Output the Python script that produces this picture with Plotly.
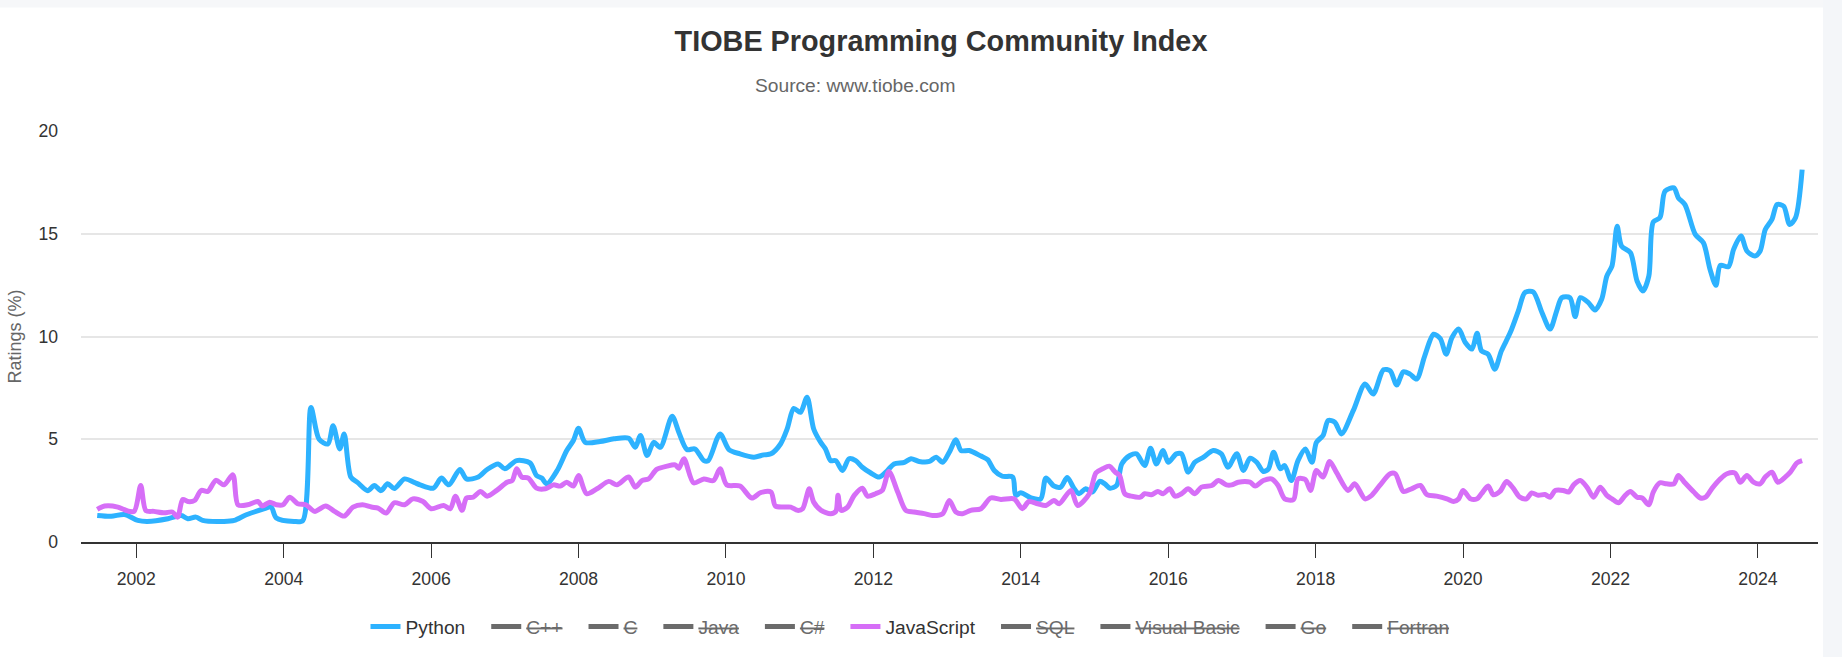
import plotly.graph_objects as go

# ---------------- data ----------------
python_years = [
    2001.47, 2001.66, 2001.84, 2002.02, 2002.15, 2002.43, 2002.61, 2002.70, 2002.81, 2002.90,
    2003.19, 2003.33, 2003.47, 2003.60, 2003.74, 2003.83, 2003.90, 2004.14, 2004.26, 2004.37,
    2004.48, 2004.60, 2004.67, 2004.76, 2004.82, 2004.91, 2005.00, 2005.14, 2005.23, 2005.32,
    2005.41, 2005.50, 2005.64, 2005.77, 2005.85, 2006.03, 2006.14, 2006.24, 2006.39, 2006.48,
    2006.64, 2006.76, 2006.91, 2007.00, 2007.16, 2007.34, 2007.43, 2007.50, 2007.57, 2007.71,
    2007.84, 2007.93, 2008.00, 2008.09, 2008.29, 2008.48, 2008.68, 2008.77, 2008.84, 2008.93,
    2009.02, 2009.11, 2009.27, 2009.36, 2009.47, 2009.58, 2009.70, 2009.76, 2009.92, 2010.04,
    2010.19, 2010.38, 2010.51, 2010.61, 2010.74, 2010.83, 2010.92, 2011.01, 2011.10, 2011.19,
    2011.29, 2011.35, 2011.42, 2011.49, 2011.58, 2011.67, 2011.76, 2011.85, 2011.96, 2012.08,
    2012.19, 2012.28, 2012.42, 2012.51, 2012.62, 2012.76, 2012.85, 2012.94, 2013.03, 2013.12,
    2013.19, 2013.30, 2013.46, 2013.55, 2013.64, 2013.75, 2013.89, 2013.93, 2014.00, 2014.14,
    2014.27, 2014.34, 2014.45, 2014.54, 2014.63, 2014.72, 2014.79, 2014.88, 2014.97, 2015.07,
    2015.14, 2015.21, 2015.30, 2015.37, 2015.48, 2015.57, 2015.68, 2015.76, 2015.84, 2015.93,
    2016.00, 2016.11, 2016.18, 2016.27, 2016.36, 2016.48, 2016.61, 2016.72, 2016.81, 2016.93,
    2017.02, 2017.11, 2017.20, 2017.29, 2017.36, 2017.43, 2017.52, 2017.58, 2017.67, 2017.76,
    2017.86, 2017.95, 2018.01, 2018.10, 2018.17, 2018.26, 2018.35, 2018.51, 2018.67, 2018.78,
    2018.92, 2019.01, 2019.10, 2019.19, 2019.28, 2019.37, 2019.48, 2019.60, 2019.69, 2019.77,
    2019.85, 2019.94, 2020.03, 2020.12, 2020.19, 2020.25, 2020.34, 2020.43, 2020.52, 2020.64,
    2020.75, 2020.84, 2020.95, 2021.07, 2021.18, 2021.27, 2021.34, 2021.45, 2021.52, 2021.59,
    2021.70, 2021.79, 2021.88, 2021.95, 2022.02, 2022.09, 2022.15, 2022.27, 2022.36, 2022.44,
    2022.52, 2022.58, 2022.67, 2022.74, 2022.86, 2022.92, 2023.01, 2023.15, 2023.26, 2023.35,
    2023.43, 2023.49, 2023.60, 2023.67, 2023.77, 2023.85, 2023.96, 2024.03, 2024.10, 2024.19,
    2024.26, 2024.35, 2024.43, 2024.51, 2024.60,
]
python_ratings = [
    1.29, 1.25, 1.34, 1.05, 1.00, 1.13, 1.29, 1.13, 1.21, 1.05,
    1.00, 1.05, 1.29, 1.46, 1.62, 1.70, 1.17, 1.00, 1.05, 6.55,
    5.00, 4.77, 5.66, 4.53, 5.26, 3.16, 2.90, 2.50, 2.75, 2.50,
    2.83, 2.60, 3.07, 2.90, 2.78, 2.62, 3.11, 2.78, 3.53, 3.07,
    3.16, 3.53, 3.80, 3.56, 3.96, 3.85, 3.24, 3.11, 2.83, 3.48,
    4.45, 4.94, 5.53, 4.85, 4.89, 5.02, 5.05, 4.61, 5.18, 4.21,
    4.85, 4.61, 6.12, 5.34, 4.50, 4.53, 3.96, 3.96, 5.26, 4.50,
    4.29, 4.13, 4.24, 4.29, 4.77, 5.50, 6.50, 6.31, 7.04, 5.50,
    4.82, 4.53, 3.96, 3.96, 3.48, 4.05, 3.96, 3.64, 3.37, 3.16,
    3.48, 3.80, 3.88, 4.05, 3.92, 3.92, 4.13, 3.88, 4.37, 4.98,
    4.45, 4.45, 4.18, 4.01, 3.48, 3.20, 3.16, 2.27, 2.40, 2.14,
    2.10, 3.11, 2.72, 2.67, 3.14, 2.62, 2.35, 2.59, 2.43, 2.95,
    2.83, 2.62, 2.75, 3.80, 4.21, 4.29, 3.72, 4.56, 3.80, 4.45,
    3.88, 4.29, 4.29, 3.40, 3.88, 4.13, 4.45, 4.29, 3.64, 4.29,
    3.48, 4.08, 3.88, 3.43, 3.56, 4.37, 3.56, 3.72, 2.99, 3.96,
    4.53, 3.88, 4.85, 5.18, 5.91, 5.83, 5.26, 6.39, 7.69, 7.20,
    8.38, 8.33, 7.64, 8.28, 8.17, 7.93, 9.06, 10.11, 9.90, 9.14,
    9.95, 10.36, 9.71, 9.39, 10.16, 9.30, 9.14, 8.41, 9.30, 10.19,
    11.25, 12.14, 12.17, 11.17, 10.36, 11.25, 11.89, 11.89, 10.97, 11.89,
    11.65, 11.29, 11.81, 12.94, 13.43, 15.37, 14.40, 14.08, 12.70, 12.22,
    12.94, 15.57, 15.78, 17.07, 17.23, 16.75, 16.42, 14.97, 14.56, 13.27,
    12.49, 13.46, 13.40, 14.24, 14.89, 14.16, 13.92, 14.16, 15.21, 15.70,
    16.42, 16.34, 15.45, 15.78, 18.12,
]

js_years = [
    2001.47, 2001.57, 2001.75, 2001.84, 2001.97, 2002.06, 2002.13, 2002.24, 2002.38, 2002.49,
    2002.56, 2002.63, 2002.70, 2002.79, 2002.88, 2002.97, 2003.08, 2003.19, 2003.31, 2003.38,
    2003.51, 2003.65, 2003.71, 2003.81, 2003.90, 2003.99, 2004.08, 2004.19, 2004.30, 2004.42,
    2004.57, 2004.69, 2004.82, 2004.94, 2005.07, 2005.19, 2005.28, 2005.39, 2005.50, 2005.64,
    2005.75, 2005.89, 2006.00, 2006.17, 2006.26, 2006.33, 2006.42, 2006.48, 2006.57, 2006.67,
    2006.76, 2006.89, 2007.03, 2007.10, 2007.16, 2007.23, 2007.32, 2007.43, 2007.55, 2007.66,
    2007.75, 2007.84, 2007.93, 2008.00, 2008.11, 2008.25, 2008.41, 2008.52, 2008.68, 2008.77,
    2008.86, 2008.95, 2009.06, 2009.20, 2009.31, 2009.36, 2009.43, 2009.56, 2009.70, 2009.83,
    2009.92, 2010.01, 2010.19, 2010.35, 2010.47, 2010.61, 2010.67, 2010.79, 2010.88, 2010.97,
    2011.04, 2011.13, 2011.19, 2011.29, 2011.42, 2011.49, 2011.52, 2011.56, 2011.65, 2011.74,
    2011.85, 2011.92, 2012.03, 2012.12, 2012.21, 2012.33, 2012.44, 2012.55, 2012.69, 2012.80,
    2012.94, 2013.03, 2013.12, 2013.21, 2013.32, 2013.46, 2013.59, 2013.73, 2013.91, 2014.02,
    2014.11, 2014.23, 2014.34, 2014.45, 2014.52, 2014.68, 2014.77, 2014.93, 2015.02, 2015.11,
    2015.20, 2015.28, 2015.34, 2015.41, 2015.50, 2015.62, 2015.68, 2015.77, 2015.86, 2015.93,
    2016.02, 2016.09, 2016.18, 2016.27, 2016.36, 2016.45, 2016.59, 2016.68, 2016.79, 2016.86,
    2016.95, 2017.11, 2017.18, 2017.29, 2017.40, 2017.49, 2017.58, 2017.70, 2017.76, 2017.86,
    2017.93, 2018.01, 2018.10, 2018.19, 2018.28, 2018.44, 2018.53, 2018.67, 2018.76, 2018.87,
    2019.01, 2019.08, 2019.19, 2019.30, 2019.42, 2019.51, 2019.64, 2019.78, 2019.87, 2019.94,
    2020.00, 2020.10, 2020.19, 2020.25, 2020.34, 2020.41, 2020.50, 2020.59, 2020.68, 2020.77,
    2020.86, 2020.93, 2021.02, 2021.11, 2021.18, 2021.25, 2021.36, 2021.43, 2021.50, 2021.59,
    2021.68, 2021.77, 2021.86, 2021.95, 2022.02, 2022.11, 2022.20, 2022.27, 2022.36, 2022.43,
    2022.52, 2022.58, 2022.67, 2022.76, 2022.86, 2022.92, 2023.01, 2023.13, 2023.22, 2023.29,
    2023.38, 2023.49, 2023.58, 2023.69, 2023.76, 2023.85, 2023.94, 2024.03, 2024.10, 2024.19,
    2024.27, 2024.37, 2024.44, 2024.53, 2024.60,
]
js_ratings = [
    1.59, 1.75, 1.70, 1.57, 1.49, 2.75, 1.53, 1.49, 1.42, 1.46,
    1.21, 2.07, 1.97, 2.02, 2.51, 2.46, 3.00, 2.78, 3.27, 1.81,
    1.81, 1.97, 1.75, 1.94, 1.81, 1.81, 2.18, 1.86, 1.81, 1.49,
    1.75, 1.49, 1.26, 1.70, 1.81, 1.70, 1.65, 1.41, 1.91, 1.81,
    2.10, 1.97, 1.62, 1.78, 1.62, 2.23, 1.54, 2.14, 2.18, 2.46,
    2.23, 2.51, 2.91, 2.99, 3.56, 3.16, 3.11, 2.62, 2.59, 2.78,
    2.72, 2.91, 2.72, 3.24, 2.35, 2.59, 2.95, 2.78, 3.16, 2.67,
    2.99, 3.07, 3.53, 3.69, 3.75, 3.59, 4.05, 2.88, 3.07, 2.99,
    3.56, 2.78, 2.72, 2.14, 2.40, 2.43, 1.75, 1.70, 1.70, 1.54,
    1.62, 2.59, 1.94, 1.54, 1.38, 1.49, 2.27, 1.54, 1.70, 2.27,
    2.62, 2.23, 2.35, 2.51, 3.43, 2.43, 1.54, 1.46, 1.38, 1.29,
    1.38, 2.02, 1.46, 1.38, 1.54, 1.62, 2.14, 2.07, 2.10, 1.62,
    1.97, 1.86, 1.78, 2.02, 1.86, 2.51, 1.78, 2.35, 3.37, 3.56,
    3.69, 3.40, 3.24, 2.35, 2.23, 2.18, 2.35, 2.30, 2.46, 2.35,
    2.59, 2.23, 2.35, 2.59, 2.35, 2.67, 2.75, 2.99, 2.78, 2.78,
    2.91, 2.91, 2.72, 2.99, 3.07, 2.75, 2.10, 2.07, 3.07, 3.04,
    2.51, 3.48, 3.16, 3.92, 3.40, 2.51, 2.83, 2.10, 2.27, 2.75,
    3.32, 3.32, 2.46, 2.59, 2.75, 2.30, 2.23, 2.10, 1.97, 2.10,
    2.51, 2.10, 2.10, 2.35, 2.72, 2.30, 2.46, 2.94, 2.62, 2.18,
    2.10, 2.39, 2.27, 2.31, 2.18, 2.51, 2.51, 2.43, 2.78, 2.99,
    2.67, 2.18, 2.67, 2.27, 2.10, 1.91, 2.27, 2.46, 2.18, 2.14,
    1.81, 2.43, 2.88, 2.83, 2.83, 3.24, 2.88, 2.43, 2.14, 2.18,
    2.62, 3.07, 3.32, 3.35, 2.91, 3.24, 2.91, 2.83, 3.16, 3.40,
    2.91, 3.16, 3.40, 3.85, 3.96,
]

legend_order = ["Python", "C++", "C", "Java", "C#", "JavaScript", "SQL", "Visual Basic", "Go", "Fortran"]
hidden_languages = ["C++", "C", "Java", "C#", "SQL", "Visual Basic", "Go", "Fortran"]
x_tick_years = [2002, 2004, 2006, 2008, 2010, 2012, 2014, 2016, 2018, 2020, 2022, 2024]
y_tick_values = [0, 5, 10, 15, 20]

PY_COLOR = "#2db2ff"
JS_COLOR = "#d66ef7"
HIDDEN_COLOR = "#6b6b6b"
FONT = "Liberation Sans, Arial, Helvetica, sans-serif"
GAP = "\u00a0\u00a0\u00a0"   # extra spacing between legend entries

# ---------------- figure ----------------
fig = go.Figure()
series = {
    "Python": (python_years, python_ratings, PY_COLOR),
    "JavaScript": (js_years, js_ratings, JS_COLOR),
}
for i, name in enumerate(legend_order):
    pad = GAP if i < len(legend_order) - 1 else ""
    if name in series:
        xs, ys, col = series[name]
        fig.add_trace(go.Scatter(
            x=xs, y=ys, mode="lines", name=name + pad,
            line=dict(color=col, width=5, shape="spline", smoothing=0.8),
            hoverinfo="x+y+name",
        ))
    else:
        fig.add_trace(go.Scatter(
            x=[None], y=[None], mode="lines",
            name=f'<span style="color:{HIDDEN_COLOR};text-decoration:line-through">{name}</span>' + pad,
            line=dict(color=HIDDEN_COLOR, width=5),
        ))

# plot-area pixel geometry: left 81, right 1818, top 131, bottom 543
PL, PR, PT, PB = 81, 1818, 131, 543.3
W, H = 1842, 657
def px2paper_x(px):
    return (px - PL) / (PR - PL)
def px2paper_y(py):
    return (PB - py) / (PB - PT)

fig.update_layout(
    width=W, height=H,
    margin=dict(l=PL, r=W - PR, t=PT, b=H - PB),
    paper_bgcolor="white", plot_bgcolor="white",
    font=dict(family=FONT, color="#333333"),
    title=dict(
        text="<b>TIOBE Programming Community Index</b>",
        font=dict(size=28.8, color="#333333", family=FONT),
        x=941 / W, xref="container", xanchor="center",
        y=1 - 41 / H, yref="container", yanchor="middle",
    ),
    showlegend=True,
    legend=dict(
        orientation="h", x=px2paper_x(910), xanchor="center",
        y=px2paper_y(627), yanchor="middle",
        font=dict(size=19.2, color="#333333", family=FONT),
        itemwidth=30, bgcolor="rgba(0,0,0,0)",
    ),
    xaxis=dict(
        range=[2001.25, 2024.815],
        tickmode="array", tickvals=x_tick_years, ticktext=[str(v) for v in x_tick_years],
        showgrid=False, zeroline=False,
        showline=True, linecolor="#333333", linewidth=1.6,
        ticks="outside", ticklen=14, tickwidth=1.2, tickcolor="#333333",
        tickfont=dict(size=17.6, color="#333333", family=FONT),
        ticklabelstandoff=6,
    ),
    yaxis=dict(
        range=[0, 20],
        tickmode="array", tickvals=y_tick_values,
        showgrid=True, gridcolor="#e6e6e6", gridwidth=1.5,
        zeroline=False, showline=False, ticks="",
        tickfont=dict(size=17.6, color="#333333", family=FONT),
        ticklabelstandoff=22,
        title=dict(text="Ratings (%)", font=dict(size=18, color="#666666", family=FONT), standoff=12),
    ),
    annotations=[dict(
        text="Source: www.tiobe.com", showarrow=False,
        xref="paper", yref="paper", x=px2paper_x(855), y=px2paper_y(85),
        xanchor="center", yanchor="middle",
        font=dict(size=19.2, color="#666666", family=FONT),
    )],
    shapes=[
        dict(type="rect", xref="paper", yref="paper", layer="below",
             x0=px2paper_x(1823), x1=px2paper_x(1850), y0=px2paper_y(670), y1=px2paper_y(-10),
             fillcolor="#f4f6f9", line=dict(width=0)),
        dict(type="rect", xref="paper", yref="paper", layer="below",
             x0=px2paper_x(-10), x1=px2paper_x(1823), y0=px2paper_y(7), y1=px2paper_y(-10),
             fillcolor="#f6f7f9", line=dict(width=0)),
    ],
)

fig.write_html("out.html")
